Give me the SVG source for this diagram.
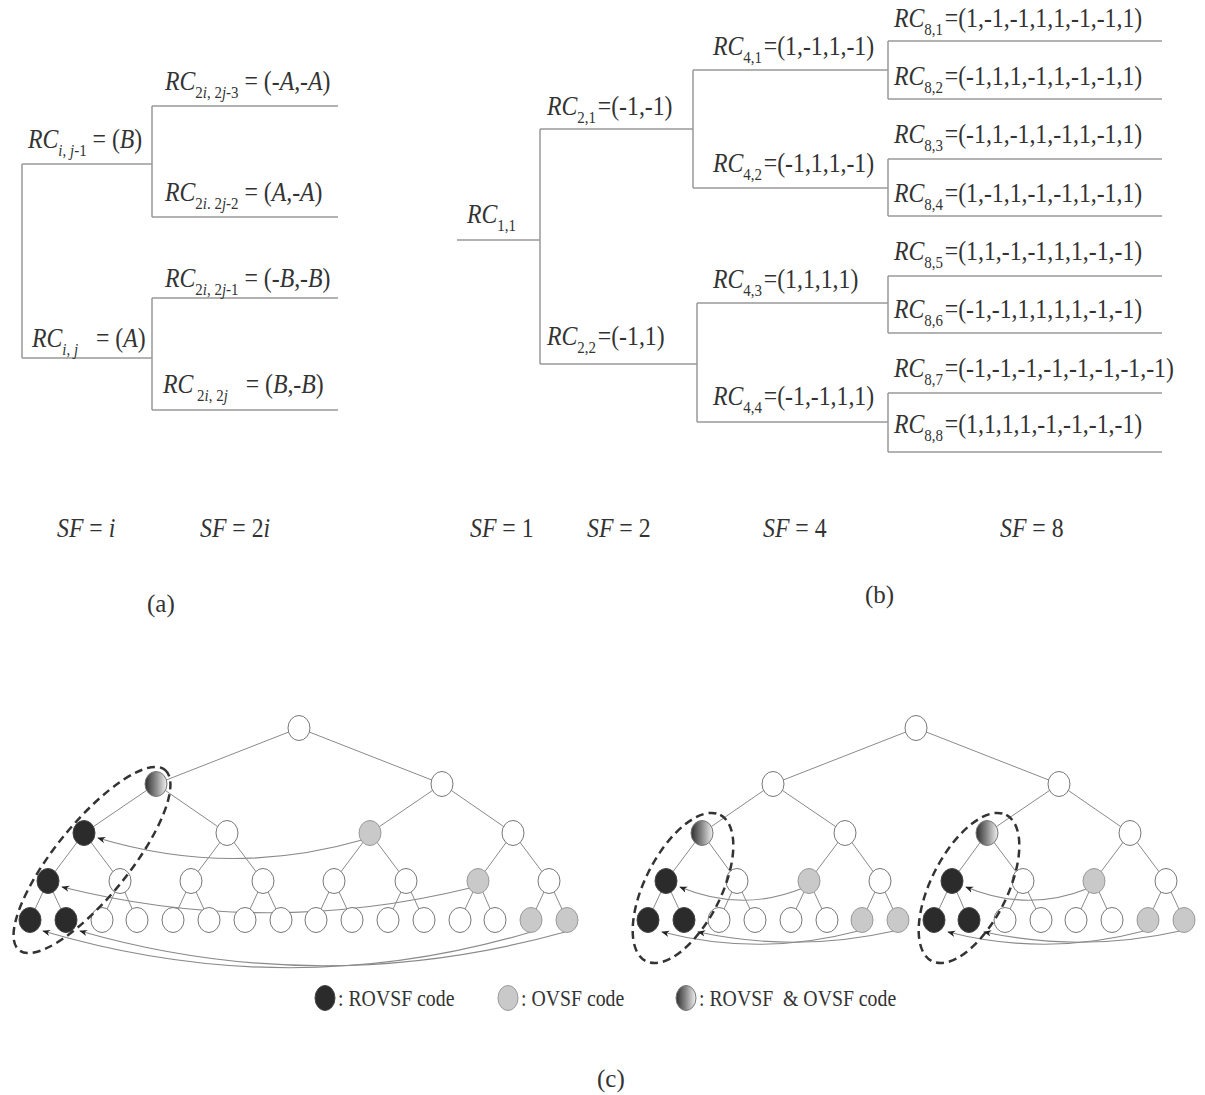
<svg xmlns="http://www.w3.org/2000/svg" width="1205" height="1095" viewBox="0 0 1205 1095">
<defs>
<style>
text{font-family:"Liberation Serif","Times New Roman",serif;fill:#333;}
.t{font-size:27px;}
.i{font-style:italic;}
.sub{font-size:17px;}
.lbl{font-size:25px;}
.leg{font-size:23px;}
.br{fill:none;stroke:#999;stroke-width:1.5;}
.ed{fill:none;stroke:#8a8a8a;stroke-width:1;}
.w{fill:#fff;stroke:#777;stroke-width:1;}
.b{fill:#2b2b2b;stroke:#444;stroke-width:1;}
.g{fill:#c9c9c9;stroke:#9a9a9a;stroke-width:1;}
.gr{fill:url(#grad);stroke:#777;stroke-width:1;}
.arr{fill:none;stroke:#8a8a8a;stroke-width:1.2;marker-end:url(#ah);}
.dash{fill:none;stroke:#333;stroke-width:2.5;stroke-dasharray:8 5;}
</style>
<linearGradient id="grad" x1="0" y1="0" x2="1" y2="0">
<stop offset="0" stop-color="#2e2e2e"/>
<stop offset="0.5" stop-color="#8a8a8a"/>
<stop offset="1" stop-color="#f2f2f2"/>
</linearGradient>
<marker id="ah" viewBox="0 0 10 10" refX="9" refY="5" markerWidth="8" markerHeight="8" markerUnits="userSpaceOnUse" orient="auto">
<path d="M0,1 L10,5 L0,9 L3,5 z" fill="#222"/>
</marker>
</defs>
<rect x="0" y="0" width="1205" height="1095" fill="#fff"/>

<!-- (a) -->
<g id="a-connectors">
<path class="br" d="M22,164 H152 M22,164 V358 M22,358 H152 M152,106 V217 M152,106 H338 M152,217 H338 M152,298 V410 M152,298 H338 M152,410 H338"/>
</g>
<g id="a-nodes">
<g id="a-rc-ij1"><text class="t" transform="translate(28,148) scale(0.88,1)"><tspan class="i">RC</tspan><tspan class="sub" dy="8"><tspan class="i">i</tspan>, <tspan class="i">j</tspan>-1</tspan><tspan dy="-8"> = (<tspan class="i">B</tspan>)</tspan></text></g>
<g id="a-rc-ij"><text class="t" transform="translate(32,347) scale(0.88,1)" xml:space="preserve"><tspan class="i">RC</tspan><tspan class="sub" dy="8"><tspan class="i">i</tspan>, <tspan class="i">j</tspan></tspan><tspan dy="-8">   = (<tspan class="i">A</tspan>)</tspan></text></g>
<g id="a-rc-2j3"><text class="t" transform="translate(165,90) scale(0.88,1)"><tspan class="i">RC</tspan><tspan class="sub" dy="8">2<tspan class="i">i</tspan>, 2<tspan class="i">j</tspan>-3</tspan><tspan dy="-8"> = (-<tspan class="i">A</tspan>,-<tspan class="i">A</tspan>)</tspan></text></g>
<g id="a-rc-2j2"><text class="t" transform="translate(165,201) scale(0.88,1)"><tspan class="i">RC</tspan><tspan class="sub" dy="8">2<tspan class="i">i</tspan>. 2<tspan class="i">j</tspan>-2</tspan><tspan dy="-8"> = (<tspan class="i">A</tspan>,-<tspan class="i">A</tspan>)</tspan></text></g>
<g id="a-rc-2j1"><text class="t" transform="translate(165,287) scale(0.88,1)"><tspan class="i">RC</tspan><tspan class="sub" dy="8">2<tspan class="i">i</tspan>, 2<tspan class="i">j</tspan>-1</tspan><tspan dy="-8"> = (-<tspan class="i">B</tspan>,-<tspan class="i">B</tspan>)</tspan></text></g>
<g id="a-rc-2j"><text class="t" transform="translate(163,393) scale(0.88,1)" xml:space="preserve"><tspan class="i">RC</tspan><tspan class="sub" dy="8"> 2<tspan class="i">i</tspan>, 2<tspan class="i">j</tspan></tspan><tspan dy="-8">   = (<tspan class="i">B</tspan>,-<tspan class="i">B</tspan>)</tspan></text></g>
</g>

<!-- (b) -->
<g id="b-connectors">
<path class="br" d="M457,240 H540 M540,129 V364 M540,129 H693 M540,364 H697 M693,70 V188 M693,70 H888 M693,188 H888 M697,303 V422 M697,303 H888 M697,422 H888 M888,41 V99 M888,159 V216 M888,276 V333 M888,393 V452 M888,41 H1162 M888,99 H1162 M888,159 H1162 M888,216 H1162 M888,276 H1162 M888,333 H1162 M888,393 H1162 M888,452 H1162"/>
</g>
<g id="b-nodes">
<g id="rc11"><text class="t" transform="translate(467,223) scale(0.88,1)"><tspan class="i">RC</tspan><tspan class="sub" dy="8">1,1</tspan></text></g>
<g id="rc21"><text class="t" transform="translate(547,115) scale(0.88,1)"><tspan class="i">RC</tspan><tspan class="sub" dy="8">2,1</tspan><tspan dy="-8" dx="2">=(-1,-1)</tspan></text></g>
<g id="rc22"><text class="t" transform="translate(547,345) scale(0.88,1)"><tspan class="i">RC</tspan><tspan class="sub" dy="8">2,2</tspan><tspan dy="-8" dx="2">=(-1,1)</tspan></text></g>
<g id="rc41"><text class="t" transform="translate(713,55) scale(0.88,1)"><tspan class="i">RC</tspan><tspan class="sub" dy="8">4,1</tspan><tspan dy="-8" dx="2">=(1,-1,1,-1)</tspan></text></g>
<g id="rc42"><text class="t" transform="translate(713,172) scale(0.88,1)"><tspan class="i">RC</tspan><tspan class="sub" dy="8">4,2</tspan><tspan dy="-8" dx="2">=(-1,1,1,-1)</tspan></text></g>
<g id="rc43"><text class="t" transform="translate(713,288) scale(0.88,1)"><tspan class="i">RC</tspan><tspan class="sub" dy="8">4,3</tspan><tspan dy="-8" dx="2">=(1,1,1,1)</tspan></text></g>
<g id="rc44"><text class="t" transform="translate(713,405) scale(0.88,1)"><tspan class="i">RC</tspan><tspan class="sub" dy="8">4,4</tspan><tspan dy="-8" dx="2">=(-1,-1,1,1)</tspan></text></g>
<g id="rc81"><text class="t" transform="translate(894,27) scale(0.88,1)"><tspan class="i">RC</tspan><tspan class="sub" dy="8">8,1</tspan><tspan dy="-8" dx="2">=(1,-1,-1,1,1,-1,-1,1)</tspan></text></g>
<g id="rc82"><text class="t" transform="translate(894,85) scale(0.88,1)"><tspan class="i">RC</tspan><tspan class="sub" dy="8">8,2</tspan><tspan dy="-8" dx="2">=(-1,1,1,-1,1,-1,-1,1)</tspan></text></g>
<g id="rc83"><text class="t" transform="translate(894,143) scale(0.88,1)"><tspan class="i">RC</tspan><tspan class="sub" dy="8">8,3</tspan><tspan dy="-8" dx="2">=(-1,1,-1,1,-1,1,-1,1)</tspan></text></g>
<g id="rc84"><text class="t" transform="translate(894,202) scale(0.88,1)"><tspan class="i">RC</tspan><tspan class="sub" dy="8">8,4</tspan><tspan dy="-8" dx="2">=(1,-1,1,-1,-1,1,-1,1)</tspan></text></g>
<g id="rc85"><text class="t" transform="translate(894,260) scale(0.88,1)"><tspan class="i">RC</tspan><tspan class="sub" dy="8">8,5</tspan><tspan dy="-8" dx="2">=(1,1,-1,-1,1,1,-1,-1)</tspan></text></g>
<g id="rc86"><text class="t" transform="translate(894,318) scale(0.88,1)"><tspan class="i">RC</tspan><tspan class="sub" dy="8">8,6</tspan><tspan dy="-8" dx="2">=(-1,-1,1,1,1,1,-1,-1)</tspan></text></g>
<g id="rc87"><text class="t" transform="translate(894,377) scale(0.88,1)"><tspan class="i">RC</tspan><tspan class="sub" dy="8">8,7</tspan><tspan dy="-8" dx="2">=(-1,-1,-1,-1,-1,-1,-1,-1)</tspan></text></g>
<g id="rc88"><text class="t" transform="translate(894,433) scale(0.88,1)"><tspan class="i">RC</tspan><tspan class="sub" dy="8">8,8</tspan><tspan dy="-8" dx="2">=(1,1,1,1,-1,-1,-1,-1)</tspan></text></g>
</g>

<!-- SF labels -->
<g id="sf-labels">
<text class="t" transform="translate(57,537) scale(0.88,1)"><tspan class="i">SF</tspan> = <tspan class="i">i</tspan></text>
<text class="t" transform="translate(200,537) scale(0.88,1)"><tspan class="i">SF</tspan> = 2<tspan class="i">i</tspan></text>
<text class="t" transform="translate(470,537) scale(0.88,1)"><tspan class="i">SF</tspan> = 1</text>
<text class="t" transform="translate(587,537) scale(0.88,1)"><tspan class="i">SF</tspan> = 2</text>
<text class="t" transform="translate(763,537) scale(0.88,1)"><tspan class="i">SF</tspan> = 4</text>
<text class="t" transform="translate(1000,537) scale(0.88,1)"><tspan class="i">SF</tspan> = 8</text>
</g>
<g id="captions">
<text class="lbl" x="147" y="612">(a)</text>
<text class="lbl" x="865" y="603">(b)</text>
<text class="lbl" x="597" y="1087">(c)</text>
</g>

<!-- (c) connectors -->
<g id="c-connectors">
<path class="ed" d="M299,728 L156,784 M299,728 L442,784 M156,784 L84,833 M156,784 L227,833 M442,784 L370,833 M442,784 L513,833 M84,833 L48,881 M84,833 L120,881 M227,833 L191,881 M227,833 L263,881 M370,833 L334,881 M370,833 L406,881 M513,833 L478,881 M513,833 L549,881 M48,881 L30,920 M48,881 L66,920 M120,881 L102,920 M120,881 L137,920 M191,881 L173,920 M191,881 L209,920 M263,881 L245,920 M263,881 L281,920 M334,881 L316,920 M334,881 L352,920 M406,881 L388,920 M406,881 L424,920 M478,881 L460,920 M478,881 L495,920 M549,881 L531,920 M549,881 L567,920"/>
<path class="ed" d="M916,728 L773,784 M916,728 L1059,784 M773,784 L702,833 M773,784 L845,833 M1059,784 L987,833 M1059,784 L1130,833 M702,833 L666,881 M702,833 L737,881 M845,833 L809,881 M845,833 L880,881 M987,833 L952,881 M987,833 L1023,881 M1130,833 L1094,881 M1130,833 L1166,881 M666,881 L648,920 M666,881 L684,920 M737,881 L719,920 M737,881 L755,920 M809,881 L791,920 M809,881 L827,920 M880,881 L862,920 M880,881 L898,920 M952,881 L934,920 M952,881 L969,920 M1023,881 L1005,920 M1023,881 L1041,920 M1094,881 L1076,920 M1094,881 L1112,920 M1166,881 L1148,920 M1166,881 L1184,920"/>
<path class="arr" d="M362,840 Q230,878 98,838"/>
<path class="arr" d="M470,888 Q266,938 62,887"/>
<path class="arr" d="M531,932 Q290,1004 43,931"/>
<path class="arr" d="M565,932 Q320,1000 80,931"/>
<path class="arr" d="M803,888 Q742,913 680,887"/>
<path class="arr" d="M858,931 Q760,957 662,932"/>
<path class="arr" d="M894,931 Q797,953 698,932"/>
<path class="arr" d="M1089,888 Q1028,913 966,887"/>
<path class="arr" d="M1144,931 Q1046,957 948,932"/>
<path class="arr" d="M1180,931 Q1083,953 984,932"/>
</g>

<!-- (c) left tree nodes -->
<g id="left-tree">
<g id="L0"><ellipse class="w" cx="299" cy="728" rx="11" ry="12.5"/></g>
<g id="L1a"><ellipse class="gr" cx="156" cy="784" rx="11" ry="12.5"/></g>
<g id="L1b"><ellipse class="w" cx="442" cy="784" rx="11" ry="12.5"/></g>
<g id="L2a"><ellipse class="b" cx="84" cy="833" rx="11" ry="12.5"/></g>
<g id="L2b"><ellipse class="w" cx="227" cy="833" rx="11" ry="12.5"/></g>
<g id="L2c"><ellipse class="g" cx="370" cy="833" rx="11" ry="12.5"/></g>
<g id="L2d"><ellipse class="w" cx="513" cy="833" rx="11" ry="12.5"/></g>
<g id="L3a"><ellipse class="b" cx="48" cy="881" rx="11" ry="12.5"/></g>
<g id="L3b"><ellipse class="w" cx="120" cy="881" rx="11" ry="12.5"/></g>
<g id="L3c"><ellipse class="w" cx="191" cy="881" rx="11" ry="12.5"/></g>
<g id="L3d"><ellipse class="w" cx="263" cy="881" rx="11" ry="12.5"/></g>
<g id="L3e"><ellipse class="w" cx="334" cy="881" rx="11" ry="12.5"/></g>
<g id="L3f"><ellipse class="w" cx="406" cy="881" rx="11" ry="12.5"/></g>
<g id="L3g"><ellipse class="g" cx="478" cy="881" rx="11" ry="12.5"/></g>
<g id="L3h"><ellipse class="w" cx="549" cy="881" rx="11" ry="12.5"/></g>
<g id="L4-1"><ellipse class="b" cx="30" cy="920" rx="11" ry="12.5"/></g>
<g id="L4-2"><ellipse class="b" cx="66" cy="920" rx="11" ry="12.5"/></g>
<g id="L4-3"><ellipse class="w" cx="102" cy="920" rx="11" ry="12.5"/></g>
<g id="L4-4"><ellipse class="w" cx="137" cy="920" rx="11" ry="12.5"/></g>
<g id="L4-5"><ellipse class="w" cx="173" cy="920" rx="11" ry="12.5"/></g>
<g id="L4-6"><ellipse class="w" cx="209" cy="920" rx="11" ry="12.5"/></g>
<g id="L4-7"><ellipse class="w" cx="245" cy="920" rx="11" ry="12.5"/></g>
<g id="L4-8"><ellipse class="w" cx="281" cy="920" rx="11" ry="12.5"/></g>
<g id="L4-9"><ellipse class="w" cx="316" cy="920" rx="11" ry="12.5"/></g>
<g id="L4-10"><ellipse class="w" cx="352" cy="920" rx="11" ry="12.5"/></g>
<g id="L4-11"><ellipse class="w" cx="388" cy="920" rx="11" ry="12.5"/></g>
<g id="L4-12"><ellipse class="w" cx="424" cy="920" rx="11" ry="12.5"/></g>
<g id="L4-13"><ellipse class="w" cx="460" cy="920" rx="11" ry="12.5"/></g>
<g id="L4-14"><ellipse class="w" cx="495" cy="920" rx="11" ry="12.5"/></g>
<g id="L4-15"><ellipse class="g" cx="531" cy="920" rx="11" ry="12.5"/></g>
<g id="L4-16"><ellipse class="g" cx="567" cy="920" rx="11" ry="12.5"/></g>
<g id="L-group"><ellipse class="dash" cx="92" cy="860" rx="116" ry="37" transform="rotate(-51 92 860)"/></g>
</g>

<!-- (c) right tree nodes -->
<g id="right-tree">
<g id="R0"><ellipse class="w" cx="916" cy="728" rx="11" ry="12.5"/></g>
<g id="R1a"><ellipse class="w" cx="773" cy="784" rx="11" ry="12.5"/></g>
<g id="R1b"><ellipse class="w" cx="1059" cy="784" rx="11" ry="12.5"/></g>
<g id="R2a"><ellipse class="gr" cx="702" cy="833" rx="11" ry="12.5"/></g>
<g id="R2b"><ellipse class="w" cx="845" cy="833" rx="11" ry="12.5"/></g>
<g id="R2c"><ellipse class="gr" cx="987" cy="833" rx="11" ry="12.5"/></g>
<g id="R2d"><ellipse class="w" cx="1130" cy="833" rx="11" ry="12.5"/></g>
<g id="R3a"><ellipse class="b" cx="666" cy="881" rx="11" ry="12.5"/></g>
<g id="R3b"><ellipse class="w" cx="737" cy="881" rx="11" ry="12.5"/></g>
<g id="R3c"><ellipse class="g" cx="809" cy="881" rx="11" ry="12.5"/></g>
<g id="R3d"><ellipse class="w" cx="880" cy="881" rx="11" ry="12.5"/></g>
<g id="R3e"><ellipse class="b" cx="952" cy="881" rx="11" ry="12.5"/></g>
<g id="R3f"><ellipse class="w" cx="1023" cy="881" rx="11" ry="12.5"/></g>
<g id="R3g"><ellipse class="g" cx="1094" cy="881" rx="11" ry="12.5"/></g>
<g id="R3h"><ellipse class="w" cx="1166" cy="881" rx="11" ry="12.5"/></g>
<g id="R4-1"><ellipse class="b" cx="648" cy="920" rx="11" ry="12.5"/></g>
<g id="R4-2"><ellipse class="b" cx="684" cy="920" rx="11" ry="12.5"/></g>
<g id="R4-3"><ellipse class="w" cx="719" cy="920" rx="11" ry="12.5"/></g>
<g id="R4-4"><ellipse class="w" cx="755" cy="920" rx="11" ry="12.5"/></g>
<g id="R4-5"><ellipse class="w" cx="791" cy="920" rx="11" ry="12.5"/></g>
<g id="R4-6"><ellipse class="w" cx="827" cy="920" rx="11" ry="12.5"/></g>
<g id="R4-7"><ellipse class="g" cx="862" cy="920" rx="11" ry="12.5"/></g>
<g id="R4-8"><ellipse class="g" cx="898" cy="920" rx="11" ry="12.5"/></g>
<g id="R4-9"><ellipse class="b" cx="934" cy="920" rx="11" ry="12.5"/></g>
<g id="R4-10"><ellipse class="b" cx="969" cy="920" rx="11" ry="12.5"/></g>
<g id="R4-11"><ellipse class="w" cx="1005" cy="920" rx="11" ry="12.5"/></g>
<g id="R4-12"><ellipse class="w" cx="1041" cy="920" rx="11" ry="12.5"/></g>
<g id="R4-13"><ellipse class="w" cx="1076" cy="920" rx="11" ry="12.5"/></g>
<g id="R4-14"><ellipse class="w" cx="1112" cy="920" rx="11" ry="12.5"/></g>
<g id="R4-15"><ellipse class="g" cx="1148" cy="920" rx="11" ry="12.5"/></g>
<g id="R4-16"><ellipse class="g" cx="1184" cy="920" rx="11" ry="12.5"/></g>
<g id="R-groupA"><ellipse class="dash" cx="683" cy="888" rx="82" ry="38" transform="rotate(-63 683 888)"/></g>
<g id="R-groupB"><ellipse class="dash" cx="969" cy="888" rx="82" ry="38" transform="rotate(-63 969 888)"/></g>
</g>

<!-- legend -->
<g id="legend">
<g id="leg-rovsf"><ellipse class="b" cx="325" cy="998" rx="10" ry="12.5"/><text class="leg" transform="translate(338,1006) scale(0.86,1)">: ROVSF code</text></g>
<g id="leg-ovsf"><ellipse class="g" cx="508" cy="998" rx="10" ry="12.5"/><text class="leg" transform="translate(521,1006) scale(0.86,1)">: OVSF code</text></g>
<g id="leg-both"><ellipse class="gr" cx="686" cy="998" rx="10" ry="12.5"/><text class="leg" transform="translate(699,1006) scale(0.86,1)" xml:space="preserve">: ROVSF  &amp; OVSF code</text></g>
</g>
</svg>
